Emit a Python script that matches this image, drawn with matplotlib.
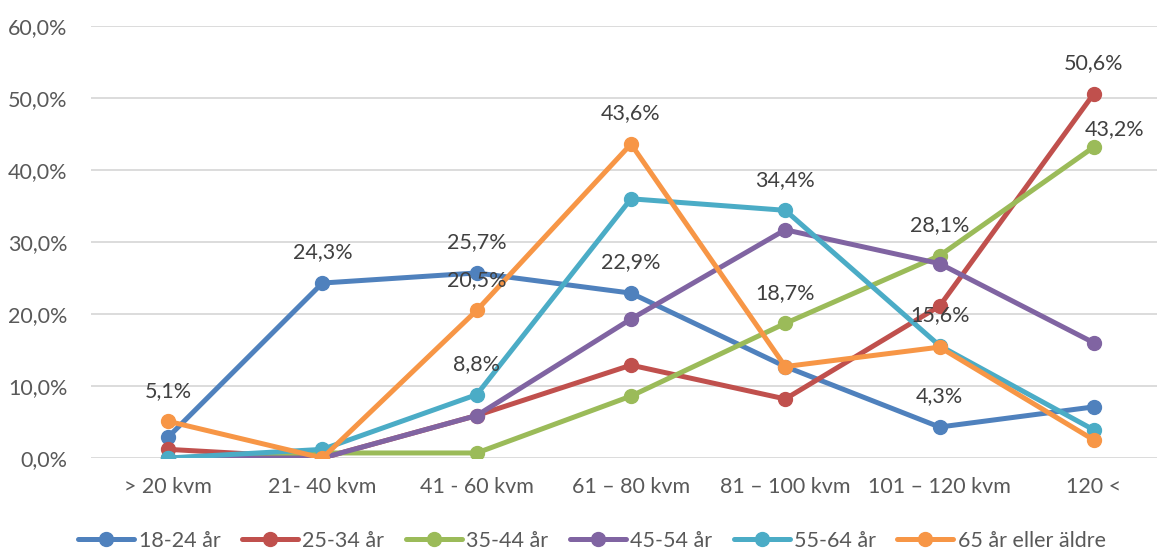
import matplotlib
matplotlib.use("Agg")
import matplotlib.pyplot as plt
from matplotlib.ticker import FuncFormatter

plt.rcParams['font.family'] = ['Lato', 'DejaVu Sans']

# kategorier och andelar (%)
categories = ["> 20 kvm", "21- 40 kvm", "41 - 60 kvm", "61 – 80 kvm",
              "81 – 100 kvm", "101 – 120 kvm", "120 <"]
series_names = ["18-24 år", "25-34 år", "35-44 år", "45-54 år",
                "55-64 år", "65 år eller äldre"]
age_18_24 = [2.9, 24.3, 25.7, 22.9, 12.7, 4.3, 7.1]
age_25_34 = [1.2, 0.0, 5.9, 12.9, 8.2, 21.1, 50.6]
age_35_44 = [0.0, 0.7, 0.7, 8.6, 18.7, 28.1, 43.2]
age_45_54 = [0.0, 0.0, 5.9, 19.3, 31.7, 27.0, 16.0]
age_55_64 = [0.0, 1.2, 8.8, 36.0, 34.4, 15.6, 3.9]
age_65 = [5.1, 0.0, 20.5, 43.6, 12.7, 15.4, 2.5]
colors = ["#4F81BD", "#C0504D", "#9BBB59", "#8064A2", "#4BACC6", "#F79646"]

# vilka punkter som har dataetikett: (serie, kategori)
labelled = [(5, 0), (0, 1), (0, 2), (5, 2), (4, 2), (5, 3), (0, 3),
            (4, 4), (2, 4), (2, 5), (4, 5), (0, 5), (1, 6), (2, 6)]

all_series = [age_18_24, age_25_34, age_35_44, age_45_54, age_55_64, age_65]

fig = plt.figure(figsize=(11.57, 5.52), dpi=100)
ax = fig.add_axes([91 / 1157, 94 / 552, 1080 / 1157, 432 / 552])

x = list(range(len(categories)))
for name, vals, c in zip(series_names, all_series, colors):
    ax.plot(x, vals, color=c, lw=3.6, marker='o', ms=10,
            solid_capstyle='round', label=name, zorder=3)

for s, i in labelled:
    v = all_series[s][i]
    off = (15, 13) if (s, i) == (2, 6) else (0, 22)  # flyttad etikett
    ax.annotate(f"{v:.1f}%".replace('.', ','), xy=(i, v), xytext=off,
                textcoords='offset points', ha='center', va='center',
                fontsize=15.5, color='#404040', zorder=5)

ax.set_xlim(-0.5, 6.5)
ax.set_ylim(0, 60)
ax.set_yticks(range(0, 61, 10))
ax.yaxis.set_major_formatter(FuncFormatter(lambda v, p: f"{v:.1f}%".replace('.', ',')))
ax.set_xticks(x)
ax.set_xticklabels(categories)
ax.tick_params(axis='both', length=0, labelsize=15.5, labelcolor='#595959')
ax.tick_params(axis='y', pad=17)
ax.tick_params(axis='x', pad=14)
ax.grid(axis='y', color='#D9D9D9', lw=1.3)
ax.set_axisbelow(True)
for sp in ax.spines.values():
    sp.set_visible(False)

fig.legend(loc='center', bbox_to_anchor=(592 / 1157, 1 - 541 / 552), ncol=6,
           frameon=False, fontsize=15.5, handlelength=2.6, handletextpad=0.2,
           columnspacing=1.0, labelcolor='#595959')

fig.savefig("out.png", dpi=100)
